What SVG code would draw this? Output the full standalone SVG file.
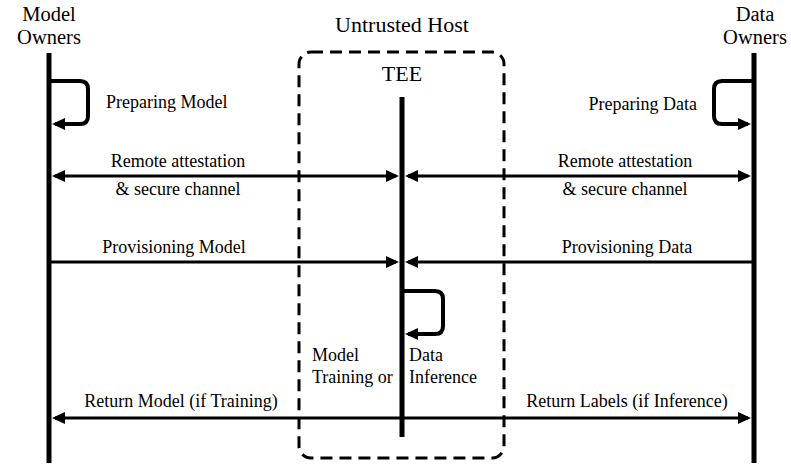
<svg xmlns="http://www.w3.org/2000/svg" width="791" height="466" viewBox="0 0 791 466">
<style>
text{font-family:"Liberation Serif","Times New Roman",serif;fill:#000}
.title{font-size:22px}
.owner{font-size:20.5px}
.lbl{font-size:18px}
.life{stroke:#000;stroke-width:5;fill:none}
.msg{stroke:#000;stroke-width:3;fill:none}
.loop{stroke:#000;stroke-width:4;fill:none;stroke-linejoin:round}
.box{stroke:#000;stroke-width:3;fill:none;stroke-dasharray:12 7}
</style>
<defs>
<marker id="ah" markerUnits="userSpaceOnUse" markerWidth="14" markerHeight="13" refX="10" refY="6" orient="auto-start-reverse" viewBox="0 0 14 12">
<path d="M0,0 L13,6 L0,12 z" fill="#000"/>
</marker>
</defs>
<g id="untrusted-host">
<rect class="box" x="299" y="52" width="205" height="406" rx="12"/>
<text class="title" x="402" y="32" text-anchor="middle">Untrusted Host</text>
</g>
<g id="model-owners">
<text class="owner" x="49" y="20.5" text-anchor="middle">Model</text>
<text class="owner" x="49" y="44" text-anchor="middle">Owners</text>
<line class="life" x1="49" y1="53" x2="49" y2="463"/>
</g>
<g id="data-owners">
<text class="owner" x="755" y="20.5" text-anchor="middle">Data</text>
<text class="owner" x="755" y="44" text-anchor="middle">Owners</text>
<line class="life" x1="754" y1="53" x2="754" y2="463"/>
</g>
<g id="tee">
<text class="title" x="402" y="81" text-anchor="middle">TEE</text>
<line class="life" x1="402" y1="97" x2="402" y2="437"/>
</g>
<g id="connectors">
<path class="loop" d="M51 81 H80 Q88 81 88 89 V116 Q88 124 80 124 H55" marker-end="url(#ah)"/>
<text class="lbl" x="106" y="108">Preparing Model</text>
<path class="loop" d="M752 81 H722 Q714 81 714 89 V116 Q714 124 722 124 H748" marker-end="url(#ah)"/>
<text class="lbl" x="697" y="110" text-anchor="end">Preparing Data</text>
<path class="msg" d="M55 176 H396" marker-start="url(#ah)" marker-end="url(#ah)"/>
<text class="lbl" x="178" y="167" text-anchor="middle">Remote attestation</text>
<text class="lbl" x="178" y="195" text-anchor="middle">&amp; secure channel</text>
<path class="msg" d="M408 176 H748" marker-start="url(#ah)" marker-end="url(#ah)"/>
<text class="lbl" x="625" y="167" text-anchor="middle">Remote attestation</text>
<text class="lbl" x="625" y="195" text-anchor="middle">&amp; secure channel</text>
<path class="msg" d="M51 262 H396" marker-end="url(#ah)"/>
<text class="lbl" x="174" y="253" text-anchor="middle">Provisioning Model</text>
<path class="msg" d="M752 262 H408" marker-end="url(#ah)"/>
<text class="lbl" x="627" y="253" text-anchor="middle">Provisioning Data</text>
<path class="loop" d="M404 291 H435 Q443 291 443 299 V326 Q443 334 435 334 H408" marker-end="url(#ah)"/>
<text class="lbl" x="312" y="361">Model</text>
<text class="lbl" x="312" y="383">Training or</text>
<text class="lbl" x="409" y="361">Data</text>
<text class="lbl" x="409" y="383">Inference</text>
<path class="msg" d="M402 418 H55" marker-end="url(#ah)"/>
<text class="lbl" x="181" y="407" text-anchor="middle">Return Model (if Training)</text>
<path class="msg" d="M402 418 H748" marker-end="url(#ah)"/>
<text class="lbl" x="627" y="407" text-anchor="middle">Return Labels (if Inference)</text>
</g>
</svg>
